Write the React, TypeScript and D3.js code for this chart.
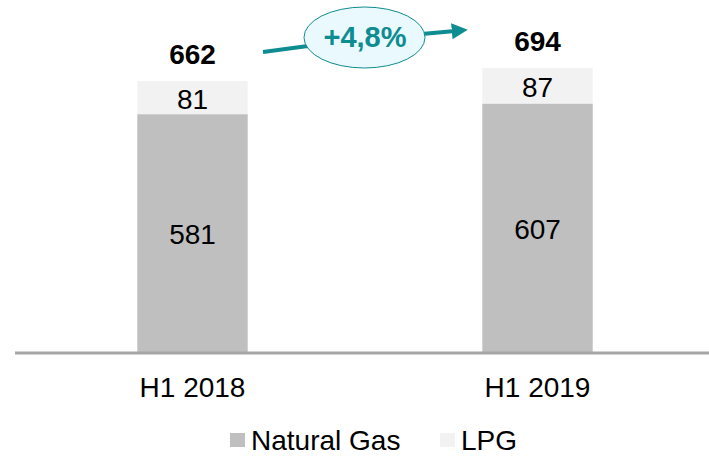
import { useEffect, useRef } from "react";
import * as d3 from "d3";

const categories = ["H1 2018", "H1 2019"];
const naturalGas = [581, 607];
const lpg = [81, 87];
const totals = [662, 694];
const growthLabel = "+4,8%";
const seriesNames = ["Natural Gas", "LPG"];

const App = () => {
  const svgRef = useRef<SVGSVGElement>(null);

  useEffect(() => {
    const svg = d3.select(svgRef.current);
    svg.selectAll("*").remove();
    const width = 709;
    const font = "'Liberation Sans', Arial, sans-serif";
    const teal = "#0e8c91";

    const x = d3
      .scaleBand()
      .domain(categories)
      .range([20, 710])
      .paddingInner(0.68)
      .paddingOuter(0.34);
    const y = d3.scaleLinear().domain([0, 662]).range([352, 81]);

    const rows = categories.map((c, i) => ({ cat: c, gas: naturalGas[i], lpg: lpg[i] }));
    const stack = d3.stack<any>().keys(["gas", "lpg"])(rows);
    const colors = ["#bfbfbf", "#f2f2f2"];

    stack.forEach((layer, li) => {
      svg
        .append("g")
        .selectAll("rect")
        .data(layer)
        .enter()
        .append("rect")
        .attr("x", (d: any) => x(d.data.cat)!)
        .attr("width", x.bandwidth())
        .attr("y", (d) => y(d[1]))
        .attr("height", (d) => y(d[0]) - y(d[1]))
        .attr("fill", colors[li]);

      svg
        .append("g")
        .selectAll("text")
        .data(layer)
        .enter()
        .append("text")
        .attr("x", (d: any) => x(d.data.cat)! + x.bandwidth() / 2)
        .attr("y", (d) => (y(d[0]) + y(d[1])) / 2 + 11)
        .attr("text-anchor", "middle")
        .attr("font-family", font)
        .attr("font-size", 28)
        .attr("fill", "#000")
        .text((d) => d[1] - d[0]);
    });

    // totals above the bars
    svg
      .append("g")
      .selectAll("text")
      .data(totals)
      .enter()
      .append("text")
      .attr("x", (_, i) => x(categories[i])! + x.bandwidth() / 2)
      .attr("y", (d) => y(d) - 17)
      .attr("text-anchor", "middle")
      .attr("font-family", font)
      .attr("font-weight", "bold")
      .attr("font-size", 28)
      .text((d) => d);

    // axis line
    svg
      .append("line")
      .attr("x1", 15)
      .attr("x2", width)
      .attr("y1", 353)
      .attr("y2", 353)
      .attr("stroke", "#a6a6a6")
      .attr("stroke-width", 3);

    svg
      .append("g")
      .selectAll("text")
      .data(categories)
      .enter()
      .append("text")
      .attr("x", (d) => x(d)! + x.bandwidth() / 2)
      .attr("y", 397)
      .attr("text-anchor", "middle")
      .attr("font-family", font)
      .attr("font-size", 28)
      .text((d) => d);

    // growth arrow
    const defs = svg.append("defs");
    defs
      .append("marker")
      .attr("id", "arrowhead")
      .attr("viewBox", "0 0 10 10")
      .attr("refX", 2)
      .attr("refY", 5)
      .attr("markerWidth", 4)
      .attr("markerHeight", 4)
      .attr("orient", "auto")
      .append("path")
      .attr("d", "M0,0 L10,5 L0,10 Z")
      .attr("fill", teal);

    svg
      .append("line")
      .attr("x1", 263)
      .attr("y1", 52)
      .attr("x2", 308)
      .attr("y2", 46)
      .attr("stroke", teal)
      .attr("stroke-width", 4);
    svg
      .append("line")
      .attr("x1", 422)
      .attr("y1", 34)
      .attr("x2", 455)
      .attr("y2", 31)
      .attr("stroke", teal)
      .attr("stroke-width", 4)
      .attr("marker-end", "url(#arrowhead)");

    svg
      .append("ellipse")
      .attr("cx", 364.5)
      .attr("cy", 37.5)
      .attr("rx", 60.5)
      .attr("ry", 30.5)
      .attr("fill", "#e9f9fd")
      .attr("stroke", teal)
      .attr("stroke-width", 1);
    svg
      .append("text")
      .attr("x", 365)
      .attr("y", 47)
      .attr("text-anchor", "middle")
      .attr("font-family", font)
      .attr("font-weight", "bold")
      .attr("font-size", 29)
      .attr("fill", teal)
      .text(growthLabel);

    // legend
    const legendX = [230, 440];
    const lg = svg
      .append("g")
      .selectAll("g")
      .data(seriesNames)
      .enter()
      .append("g")
      .attr("transform", (_, i) => `translate(${legendX[i]},433)`);
    lg.append("rect")
      .attr("width", 15)
      .attr("height", 14)
      .attr("fill", (_, i) => colors[i]);
    lg.append("text")
      .attr("x", 21)
      .attr("y", 17)
      .attr("font-family", font)
      .attr("font-size", 28)
      .text((d) => d);
  }, []);

  return (
    <svg
      ref={svgRef}
      width={709}
      height={457}
      style={{ position: "absolute", left: 0, top: 0, background: "#fff" }}
    />
  );
};

export default App;
